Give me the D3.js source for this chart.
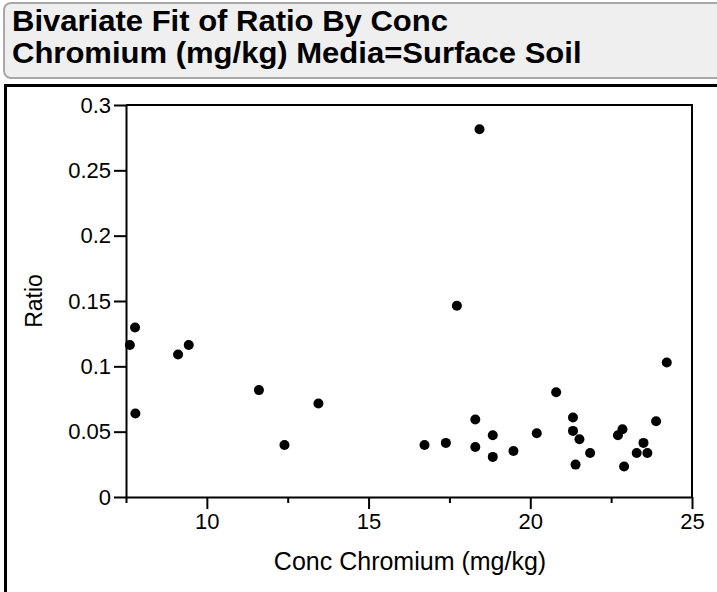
<!DOCTYPE html>
<html>
<head>
<meta charset="utf-8">
<script src="https://cdn.jsdelivr.net/npm/d3@7"></script>
<style>
  html, body { margin: 0; padding: 0; background: #fff; }
  svg { display: block; }
  text { font-family: "Liberation Sans", Arial, sans-serif; fill: #000; }
</style>
</head>
<body>
<script>
// Bivariate data: concentration (mg/kg) vs ratio
const conc = [7.62, 7.78, 7.79, 9.11, 9.44, 11.61, 12.40, 13.45, 16.73, 17.39,
              17.73, 18.30, 18.30, 18.43, 18.84, 18.84, 19.48, 20.20, 20.80, 21.32,
              21.32, 21.40, 21.52, 21.85, 22.71, 22.85, 22.90, 23.29, 23.50, 23.62,
              23.89, 24.22];
const ratio = [0.1163, 0.1297, 0.0639, 0.1091, 0.1163, 0.0818, 0.0398, 0.0716, 0.0398, 0.0414,
               0.1464, 0.0593, 0.0383, 0.2815, 0.0473, 0.0307, 0.0352, 0.0488, 0.0802, 0.0608,
               0.0506, 0.0248, 0.0442, 0.0337, 0.0473, 0.0519, 0.0233, 0.0337, 0.0414, 0.0337,
               0.0580, 0.1030];

const xMajorTicks = [10, 15, 20, 25];
const xMinorTicks = [7.5, 12.5, 17.5, 22.5];
const yTicks = [0, 0.05, 0.1, 0.15, 0.2, 0.25, 0.3];
const yTickLabels = ["0", "0.05", "0.1", "0.15", "0.2", "0.25", "0.3"];
const titleLines = ["Bivariate Fit of Ratio By Conc", "Chromium (mg/kg) Media=Surface Soil"];
const xLabel = "Conc Chromium (mg/kg)";
const yLabel = "Ratio";

const W = 717, H = 592;
const svg = d3.select("body").append("svg").attr("width", W).attr("height", H);

// Header panel
svg.append("rect")
  .attr("x", 4).attr("y", 3).attr("width", 730).attr("height", 75)
  .attr("rx", 7).attr("ry", 7)
  .attr("fill", "#efefef").attr("stroke", "#a8a8a8").attr("stroke-width", 2);

const titleG = svg.append("g");
titleLines.forEach((t, i) => {
  titleG.append("text")
    .attr("transform", `translate(12,${31 + i * 32}) scale(1.07,1)`)
    .attr("font-size", 29).attr("font-weight", "bold")
    .text(t);
});

// Report frame
svg.append("path")
  .attr("d", `M4,85.5 H${W} M5.5,85 V${H}`)
  .attr("fill", "none").attr("stroke", "#000").attr("stroke-width", 3);

// Plot area
const plotL = 126, plotR = 692, plotT = 105, plotB = 497;
const x = d3.scaleLinear().domain([7.5, 25]).range([plotL, plotR]);
const y = d3.scaleLinear().domain([0, 0.3]).range([plotB, plotT]);

// Frame around plot (top/right)
svg.append("path")
  .attr("d", `M${plotL},${plotT} H${plotR} V${plotB}`)
  .attr("fill", "none").attr("stroke", "#000").attr("stroke-width", 2);

// Y axis
const yAxis = d3.axisLeft(y)
  .tickValues(yTicks)
  .tickFormat((d, i) => yTickLabels[i])
  .tickSize(12).tickPadding(3).tickSizeOuter(0);
const yG = svg.append("g").attr("transform", `translate(${plotL},0)`).call(yAxis);
yG.select(".domain").attr("stroke-width", 2);
yG.selectAll(".tick line").attr("stroke-width", 2);
yG.selectAll(".tick text").attr("font-size", 22).attr("font-family", "Liberation Sans, Arial, sans-serif");

// X axis (major)
const xAxis = d3.axisBottom(x)
  .tickValues(xMajorTicks)
  .tickFormat(d3.format("d"))
  .tickSize(12).tickPadding(4).tickSizeOuter(0);
const xG = svg.append("g").attr("transform", `translate(0,${plotB})`).call(xAxis);
xG.select(".domain").attr("stroke-width", 2);
xG.selectAll(".tick line").attr("stroke-width", 2);
xG.selectAll(".tick text").attr("font-size", 22).attr("font-family", "Liberation Sans, Arial, sans-serif");

// X axis (minor)
const xMinor = d3.axisBottom(x).tickValues(xMinorTicks).tickSize(6).tickFormat("").tickSizeOuter(0);
const xmG = svg.append("g").attr("transform", `translate(0,${plotB})`).call(xMinor);
xmG.select(".domain").remove();
xmG.selectAll(".tick line").attr("stroke-width", 2);

// Axis titles
svg.append("text")
  .attr("x", 410).attr("y", 570)
  .attr("text-anchor", "middle").attr("font-size", 25)
  .text(xLabel);
svg.append("text")
  .attr("transform", `translate(42,301) rotate(-90)`)
  .attr("text-anchor", "middle").attr("font-size", 23)
  .text(yLabel);

// Points
svg.append("g").selectAll("circle")
  .data(conc.map((c, i) => [c, ratio[i]]))
  .join("circle")
  .attr("cx", d => x(d[0]))
  .attr("cy", d => y(d[1]))
  .attr("r", 5)
  .attr("fill", "#000");
</script>
</body>
</html>
